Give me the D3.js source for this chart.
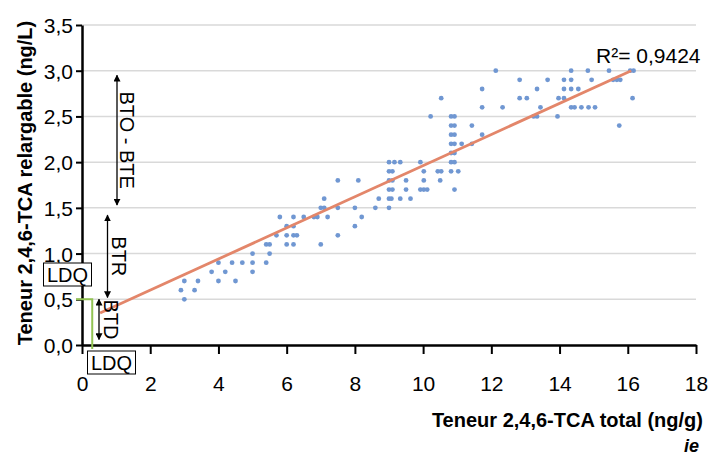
<!DOCTYPE html>
<html>
<head>
<meta charset="utf-8">
<script src="https://cdn.jsdelivr.net/npm/d3@7"></script>
<style>
    body { margin: 0; background: #fff; }
    text { font-family: "Liberation Sans", Arial, sans-serif; }
</style>
</head>
<body>
<div id="chart"></div>
<script>
// teneur totale (ng/g) et teneur relargable (ng/L) de chaque bouchon
var totalTCA = [
    3.0, 2.9, 3.0, 3.3, 3.4, 3.8, 4.0, 4.0, 4.2, 4.4, 4.5, 4.7,
    5.0, 5.0, 5.0, 5.4, 5.4, 5.5, 5.5, 5.7, 5.8, 6.0, 6.0, 6.0,
    6.2, 6.2, 6.2, 6.3, 6.2, 6.5, 6.8, 6.9, 7.0, 7.1, 7.1, 7.0, 7.2,
    7.5, 7.5, 7.5, 8.0, 8.0, 8.1, 8.2, 8.6, 8.7,
    9.0, 9.0, 9.07, 9.0, 9.1, 9.0, 9.1, 9.0, 9.1, 9.0, 9.16, 9.33,
    9.33, 9.5, 9.5, 9.63, 9.92, 10.02, 10.02, 9.92, 10.02, 10.12,
    10.22, 10.43, 10.53, 10.5, 10.53,
    10.82, 10.92, 10.82, 10.92, 10.82, 10.92, 10.82, 10.92, 10.82, 10.92, 10.82, 10.92,
    10.82, 10.92, 11.03, 11.13, 11.43, 11.43, 11.73, 11.73, 11.73,
    12.13, 12.33, 12.83, 12.83, 13.04, 13.24, 13.34, 13.34, 13.44, 13.65, 13.94, 13.97,
    14.13, 14.34, 14.13, 14.34, 14.55, 14.13, 14.34, 14.34, 14.44, 14.64, 14.85, 15.04,
    14.83, 14.94, 15.45, 15.57, 15.68, 15.78, 15.75, 16.07, 16.17, 16.14
];
var releasedTCA = [
    0.7, 0.6, 0.5, 0.6, 0.7, 0.8, 0.9, 0.7, 0.8, 0.9, 0.7, 0.9,
    1.0, 0.9, 0.8, 0.9, 1.1, 1.1, 1.0, 1.2, 1.4, 1.3, 1.2, 1.1,
    1.4, 1.3, 1.2, 1.2, 1.1, 1.4, 1.4, 1.4, 1.5, 1.5, 1.6, 1.1, 1.4,
    1.8, 1.5, 1.2, 1.5, 1.3, 1.8, 1.4, 1.5, 1.6,
    1.5, 1.6, 1.6, 1.7, 1.7, 1.8, 1.8, 1.9, 1.9, 2.0, 2.0, 2.0,
    1.6, 1.8, 1.7, 1.6, 2.0, 1.9, 1.8, 1.7, 1.7, 1.7,
    2.5, 1.9, 1.9, 1.8, 2.7,
    2.5, 2.5, 2.4, 2.4, 2.3, 2.3, 2.2, 2.2, 2.1, 2.1, 2.0, 2.0,
    1.9, 1.7, 1.9, 2.2, 2.4, 2.2, 2.8, 2.6, 2.3,
    3.0, 2.6, 2.9, 2.7, 2.7, 2.5, 2.5, 2.8, 2.6, 2.9, 2.5, 2.7,
    2.9, 2.9, 2.8, 2.8, 2.8, 2.7, 3.0, 2.6, 2.6, 2.6, 2.6, 2.6,
    3.0, 2.9, 3.0, 2.9, 2.9, 2.9, 2.4, 3.0, 3.0, 2.7
];

var xTicks = [0, 2, 4, 6, 8, 10, 12, 14, 16, 18];
var yTicks = [0, 0.5, 1, 1.5, 2, 2.5, 3, 3.5];

// droite de regression (extremites)
var fitX = [0.53, 16.1];
var fitY = [0.35, 3.0];
var r2Label = "R\u00b2= 0,9424";

// zones BTO-BTE / BTR / BTD
var zoneLabels = ["BTO - BTE", "BTR", "BTD"];
var zoneLow = [1.53, 0.52, 0.06];
var zoneHigh = [2.95, 1.42, 0.5];

var ldqX = 0.3;
var ldqY = 0.5;

var W = 710, H = 458;
var margin = {top: 25, right: 14, bottom: 113, left: 82};

var svg = d3.select("#chart")
    .append("svg")
    .attr("width", W)
    .attr("height", H);

var x = d3.scaleLinear().domain([0, 18]).range([margin.left, W - margin.right]);
var y = d3.scaleLinear().domain([0, 3.5]).range([H - margin.bottom, margin.top]);

var fr = d3.formatLocale({decimal: ",", thousands: " ", grouping: [3], currency: ["", ""]});
var fmt1 = fr.format(".1f");

// grille
svg.append("g")
    .selectAll("line")
    .data(yTicks.filter(d => d > 0))
    .enter()
    .append("line")
    .attr("x1", x(0))
    .attr("x2", x(18))
    .attr("y1", d => y(d))
    .attr("y2", d => y(d))
    .style("stroke", "#d9d9d9")
    .style("stroke-width", 1.5);

// points
svg.append("g")
    .selectAll("circle")
    .data(totalTCA)
    .enter()
    .append("circle")
    .attr("cx", d => x(d))
    .attr("cy", (d, i) => y(releasedTCA[i]))
    .attr("r", 2.4)
    .attr("fill", "#7097d2");

// regression
svg.append("line")
    .attr("x1", x(fitX[0]))
    .attr("y1", y(fitY[0]))
    .attr("x2", x(fitX[1]))
    .attr("y2", y(fitY[1]))
    .style("stroke", "#e3866a")
    .style("stroke-width", 2.8);

svg.append("text")
    .attr("x", 596)
    .attr("y", 63)
    .style("font-size", "21px")
    .text(r2Label);

// axes
var xAxis = d3.axisBottom(x).tickValues(xTicks).tickSize(9).tickSizeOuter(0).tickFormat(d3.format("d"));
var yAxis = d3.axisLeft(y).tickValues(yTicks).tickSize(6).tickSizeOuter(0).tickFormat(fmt1);

var gx = svg.append("g")
    .attr("transform", "translate(0," + y(0) + ")")
    .call(xAxis);
gx.select(".domain").style("stroke", "#000").style("stroke-width", 2.5);
gx.selectAll(".tick line").style("stroke", "#000").style("stroke-width", 2);
gx.selectAll(".tick text")
    .attr("y", 46)
    .attr("dy", 0)
    .style("font-size", "21px")
    .style("font-family", "Liberation Sans, Arial, sans-serif")
    .style("fill", "#000");

var gy = svg.append("g")
    .attr("transform", "translate(" + x(0) + ",0)")
    .call(yAxis);
gy.select(".domain").style("stroke", "#000").style("stroke-width", 2.5);
gy.selectAll(".tick line").style("stroke", "#000").style("stroke-width", 2);
gy.selectAll(".tick text")
    .attr("x", -9)
    .attr("dy", "0.36em")
    .style("font-size", "21px")
    .style("font-family", "Liberation Sans, Arial, sans-serif")
    .style("fill", "#000");

// titres
svg.append("text")
    .attr("x", 703)
    .attr("y", 427)
    .attr("text-anchor", "end")
    .style("font-size", "20px")
    .style("font-weight", "bold")
    .text("Teneur 2,4,6-TCA total (ng/g)");

svg.append("text")
    .attr("transform", "translate(31.5," + 183 + ") rotate(-90)")
    .attr("text-anchor", "middle")
    .style("font-size", "20px")
    .style("font-weight", "bold")
    .text("Teneur 2,4,6-TCA relargable (ng/L)");

// fleches des zones
var defs = svg.append("defs");
["arrS", "arrE"].forEach(function (id, k) {
    defs.append("marker")
        .attr("id", id)
        .attr("viewBox", "0 0 10 10")
        .attr("refX", k == 0 ? 1 : 9)
        .attr("refY", 5)
        .attr("markerWidth", 7)
        .attr("markerHeight", 7)
        .attr("markerUnits", "userSpaceOnUse")
        .attr("orient", "auto")
        .append("path")
        .attr("d", k == 0 ? "M10,0 L0,5 L10,10 z" : "M0,0 L10,5 L0,10 z")
        .attr("fill", "#000");
});

var arrowX = [117, 107.5, 99];
var labelX = [120, 112, 104];
zoneLabels.forEach(function (lab, i) {
    svg.append("line")
        .attr("x1", arrowX[i])
        .attr("x2", arrowX[i])
        .attr("y1", y(zoneHigh[i]))
        .attr("y2", y(zoneLow[i]))
        .attr("marker-start", "url(#arrS)")
        .attr("marker-end", "url(#arrE)")
        .style("stroke", "#000")
        .style("stroke-width", 1.3);
    svg.append("text")
        .attr("transform", "translate(" + labelX[i] + "," + y((zoneLow[i] + zoneHigh[i]) / 2) + ") rotate(90)")
        .attr("text-anchor", "middle")
        .style("font-size", "20px")
        .text(lab);
});

// LDQ
svg.append("path")
    .attr("d", "M" + (x(0) - 6) + "," + y(ldqY) + " H" + x(ldqX) + " V" + (y(0) + 4))
    .attr("fill", "none")
    .style("stroke", "#92c353")
    .style("stroke-width", 2);

function ldqBox(cx, cy) {
    var g = svg.append("g");
    g.append("rect")
        .attr("x", cx - 24)
        .attr("y", cy - 11.5)
        .attr("width", 48)
        .attr("height", 23)
        .attr("fill", "#fff")
        .style("stroke", "#000")
        .style("stroke-width", 1);
    g.append("text")
        .attr("x", cx)
        .attr("y", cy)
        .attr("dy", "0.36em")
        .attr("text-anchor", "middle")
        .style("font-size", "20px")
        .text("LDQ");
}
ldqBox(67.5, 274.5);
ldqBox(111.5, 362.5);

// logo
svg.append("text")
    .attr("x", 699)
    .attr("y", 452)
    .attr("text-anchor", "end")
    .style("font-size", "18px")
    .style("font-weight", "bold")
    .style("font-style", "italic")
    .text("ie");
</script>
</body>
</html>
